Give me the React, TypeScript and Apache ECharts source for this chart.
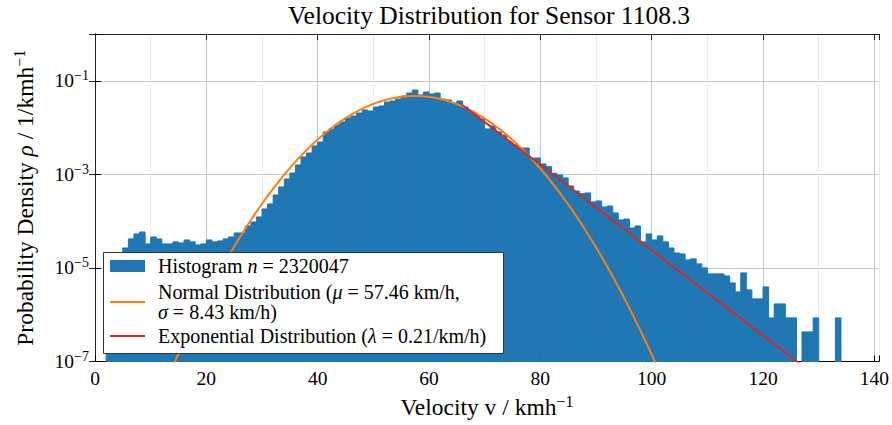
import React, { useEffect, useRef } from 'react';
import * as echarts from 'echarts';

// Histogram bins (1 km/h wide), left edges and probability densities
const binLeft = [
  2, 3, 4, 5, 6, 7, 8, 9, 10, 11, 12, 13, 14, 15, 16, 17, 18, 19, 20, 21, 22, 23, 24, 25, 26, 27, 28, 29,
  30, 31, 32, 33, 34, 35, 36, 37, 38, 39, 40, 41, 42, 43, 44, 45, 46, 47, 48, 49, 50, 51, 52, 53, 54, 55,
  56, 57, 58, 59, 60, 61, 62, 63, 64, 65, 66, 67, 68, 69, 70, 71, 72, 73, 74, 75, 76, 77, 78, 79, 80, 81,
  82, 83, 84, 85, 86, 87, 88, 89, 90, 91, 92, 93, 94, 95, 96, 97, 98, 99, 100, 101, 102, 103, 104, 105,
  106, 107, 108, 109, 110, 111, 112, 113, 114, 115, 116, 117, 118, 119, 120, 121, 122, 123, 124, 125,
  127, 128, 129, 133,
];
const binDensity = [
  4.0e-6, 8.0e-6, 1.4e-5, 2.67e-5, 4.17e-5, 5.32e-5, 5.87e-5, 3.26e-5, 4.59e-5, 4.17e-5, 3.26e-5, 3.26e-5,
  3.6e-5, 3.42e-5, 3.96e-5, 3.6e-5, 3.1e-5, 3.26e-5, 3.96e-5, 3.6e-5, 3.78e-5, 4.17e-5, 4.59e-5, 5.6e-5,
  5.6e-5, 7.9e-5, 9.6e-5, 1.23e-4, 1.82e-4, 2.33e-4, 3.63e-4, 5.38e-4, 7.98e-4, 1.07e-3, 1.59e-3, 2.36e-3,
  2.86e-3, 4.05e-3, 4.92e-3, 8.05e-3, 9.33e-3, 1.14e-2, 1.32e-2, 1.6e-2, 1.77e-2, 2.05e-2, 2.38e-2, 2.26e-2,
  2.75e-2, 2.9e-2, 3.52e-2, 3.7e-2, 4.08e-2, 4.73e-2, 5.48e-2, 6.35e-2, 4.98e-2, 5.77e-2, 5.22e-2, 5.48e-2,
  4.08e-2, 3.89e-2, 3.36e-2, 3.7e-2, 2.75e-2, 2.15e-2, 1.86e-2, 1.53e-2, 9.33e-3, 1.08e-2, 8.05e-3, 6.95e-3,
  4.92e-3, 4.25e-3, 3.66e-3, 3.66e-3, 2.24e-3, 2.24e-3, 1.67e-3, 1.46e-3, 1.05e-3, 9.7e-4, 8.4e-4, 5.65e-4,
  4.42e-4, 3.87e-4, 4.01e-4, 2.57e-4, 2.7e-4, 2.01e-4, 2.11e-4, 1.5e-4, 1.06e-4, 1.11e-4, 7.16e-5, 7.89e-5,
  3.6e-5, 5.32e-5, 3.96e-5, 4.83e-5, 3.6e-5, 2.67e-5, 2.09e-5, 1.99e-5, 1.48e-5, 1.56e-5, 1.22e-5, 1.0e-5,
  7.45e-6, 7.45e-6, 7.45e-6, 6.75e-6, 4.78e-6, 3.07e-6, 7.82e-6, 3.39e-6, 2.18e-6, 2.18e-6, 3.93e-6, 8.55e-7,
  1.7e-6, 1.7e-6, 8.55e-7, 8.55e-7, 4.29e-7, 4.29e-7, 8.55e-7, 8.55e-7,
];
const BIN_WIDTH = 1;

// Fitted distributions (parameters as given in the legend)
const NORMAL_MU = 57.46;
const NORMAL_SIGMA = 8.43;
const EXP_LAMBDA = 0.21;
const EXP_ANCHOR_V = 80;
const EXP_ANCHOR_DENSITY = 1.6e-3;
const EXP_RANGE = [66, 126.5];
const NORMAL_RANGE = [10, 106];

const HIST_N = '2320047';
const xTicks = [0, 20, 40, 60, 80, 100, 120, 140];
const X_MIN = 0;
const X_MAX = 140.8;
const Y_MIN = 1e-7;
const Y_MAX = 1;

const FONT = "'Liberation Serif', 'DejaVu Serif', serif";

const normalPdf = (v: number) =>
  Math.exp(-0.5 * ((v - NORMAL_MU) / NORMAL_SIGMA) ** 2) / (NORMAL_SIGMA * Math.sqrt(2 * Math.PI));
const expPdf = (v: number) => EXP_ANCHOR_DENSITY * Math.exp(-EXP_LAMBDA * (v - EXP_ANCHOR_V));

function curvePoints(range: number[], step: number, f: (v: number) => number) {
  const pts: number[][] = [];
  for (let v = range[0]; v <= range[1] + 1e-9; v += step) pts.push([v, f(v)]);
  return pts;
}

const tickRich = {
  sup: { fontSize: 14, fontFamily: FONT, color: '#000', padding: [0, 0, 10, 0] },
};
const nameRich = {
  sup: { fontSize: 16, fontFamily: FONT, color: '#000', padding: [0, 0, 11, 0] },
  i: { fontStyle: 'italic', fontSize: 23.5, fontFamily: FONT, color: '#000' },
};

export default function App() {
  const ref = useRef<HTMLDivElement>(null);
  useEffect(() => {
    if (!ref.current) return;
    const chart = echarts.init(ref.current, undefined, { renderer: 'svg' });
    const histData = binLeft.map((l, i) => [l, l + BIN_WIDTH, binDensity[i]]);
    const grid = { left: 95, right: 13, top: 34, bottom: 63.5 };

    const legendFont = 20;
    const legendRich = { i: { fontStyle: 'italic', fontSize: legendFont, fontFamily: FONT } };
    const legendText = (text: string, x: number, y: number) => ({
      type: 'text',
      z: 101,
      x,
      y,
      style: {
        text,
        fontSize: legendFont,
        fontFamily: FONT,
        fill: '#000',
        verticalAlign: 'middle',
        textVerticalAlign: 'middle',
        rich: legendRich,
      },
    });

    const option: any = {
      animation: false,
      backgroundColor: '#fff',
      grid,
      xAxis: [
        {
          type: 'value',
          min: X_MIN,
          max: X_MAX,
          interval: 20,
          position: 'bottom',
          axisLine: { show: true, lineStyle: { color: '#000', width: 1 } },
          axisTick: { show: true, inside: true, length: 6, lineStyle: { color: '#000' } },
          axisLabel: {
            margin: 7,
            fontSize: 19.5,
            fontFamily: FONT,
            color: '#000',
            formatter: (v: number) => (xTicks.includes(v) ? String(v) : ''),
          },
          splitLine: { show: false },
          name: 'Velocity v / kmh{sup|−1}',
          nameLocation: 'middle',
          nameGap: 30,
          nameTextStyle: { fontSize: 23.5, fontFamily: FONT, color: '#000', verticalAlign: 'top', rich: nameRich },
        },
        {
          type: 'value',
          min: X_MIN,
          max: X_MAX,
          interval: 20,
          position: 'top',
          axisLine: { show: true, lineStyle: { color: '#222', width: 1 } },
          axisTick: { show: true, inside: true, length: 6, lineStyle: { color: '#222' } },
          axisLabel: { show: false },
          splitLine: { show: false },
        },
        {
          type: 'value',
          min: X_MIN,
          max: X_MAX,
          interval: 10,
          position: 'bottom',
          axisLine: { show: false },
          axisTick: { show: false },
          axisLabel: { show: false },
          splitLine: { show: true, lineStyle: { color: ['#c6c6c6', '#ebebeb'], width: 1 } },
        },
      ],
      yAxis: [
        {
          type: 'log',
          logBase: 10,
          min: Y_MIN,
          max: Y_MAX,
          interval: 2,
          position: 'left',
          axisLine: { show: true, lineStyle: { color: '#000', width: 1 } },
          axisTick: { show: true, inside: true, length: 6, lineStyle: { color: '#000' } },
          axisLabel: {
            margin: 6,
            fontSize: 19.5,
            fontFamily: FONT,
            color: '#000',
            rich: tickRich,
            formatter: (v: number) => {
              const e = Math.round(Math.log10(v));
              if (e % 2 === 0) return '';
              return '10{sup|−' + -e + '}';
            },
          },
          splitLine: { show: true, lineStyle: { color: '#c6c6c6', width: 1 } },
          name: 'Probability Density {i|ρ} / 1/kmh{sup|−1}',
          nameLocation: 'middle',
          nameRotate: 90,
          nameGap: 57,
          nameTextStyle: { fontSize: 23.5, fontFamily: FONT, color: '#000', rich: nameRich },
        },
        {
          type: 'log',
          logBase: 10,
          min: Y_MIN,
          max: Y_MAX,
          interval: 2,
          position: 'right',
          axisLine: { show: true, lineStyle: { color: '#222', width: 1 } },
          axisTick: { show: true, inside: true, length: 6, lineStyle: { color: '#222' } },
          axisLabel: { show: false },
          splitLine: { show: false },
        },
      ],
      series: [
        {
          type: 'custom',
          name: 'Histogram',
          xAxisIndex: 0,
          yAxisIndex: 0,
          encode: { x: [0, 1], y: 2 },
          data: histData,
          z: 2,
          renderItem: (params: any, api: any) => {
            const p0 = api.coord([api.value(0), api.value(2)]);
            const p1 = api.coord([api.value(1), Y_MIN]);
            return {
              type: 'rect',
              shape: { x: p0[0], y: p0[1], width: p1[0] - p0[0], height: p1[1] - p0[1] },
              style: { fill: '#1f77b4', stroke: '#1f77b4', lineWidth: 1 },
            };
          },
        },
        {
          type: 'line',
          name: 'Normal',
          xAxisIndex: 0,
          yAxisIndex: 0,
          data: curvePoints(NORMAL_RANGE, 0.25, normalPdf),
          showSymbol: false,
          symbol: 'none',
          clip: true,
          z: 3,
          lineStyle: { color: '#ff7f0e', width: 2 },
        },
        {
          type: 'line',
          name: 'Exponential',
          xAxisIndex: 0,
          yAxisIndex: 0,
          data: curvePoints(EXP_RANGE, 0.5, expPdf),
          showSymbol: false,
          symbol: 'none',
          clip: true,
          z: 4,
          lineStyle: { color: '#d62728', width: 2 },
        },
      ],
      graphic: [
        {
          type: 'text',
          z: 100,
          x: 489,
          y: 15,
          style: {
            text: 'Velocity Distribution for Sensor 1108.3',
            fontSize: 25.5,
            fontFamily: FONT,
            fill: '#000',
            align: 'center',
            verticalAlign: 'middle',
            textAlign: 'center',
            textVerticalAlign: 'middle',
          },
        },
        {
          type: 'group',
          z: 100,
          children: [
            {
              type: 'rect',
              z: 100,
              shape: { x: 103.5, y: 252.5, width: 400, height: 101 },
              style: { fill: '#fff', stroke: '#333', lineWidth: 1 },
            },
            {
              type: 'rect',
              z: 101,
              shape: { x: 110, y: 260, width: 35, height: 12 },
              style: { fill: '#1f77b4' },
            },
            {
              type: 'line',
              z: 101,
              shape: { x1: 110, y1: 302, x2: 145, y2: 302 },
              style: { stroke: '#ff7f0e', lineWidth: 2 },
            },
            {
              type: 'line',
              z: 101,
              shape: { x1: 110, y1: 336, x2: 145, y2: 336 },
              style: { stroke: '#d62728', lineWidth: 2 },
            },
            legendText('Histogram {i|n} = ' + HIST_N, 158, 266),
            legendText('Normal Distribution ({i|μ} = ' + NORMAL_MU + ' km/h,', 158, 292),
            legendText('{i|σ} = ' + NORMAL_SIGMA + ' km/h)', 158, 312),
            legendText('Exponential Distribution ({i|λ} = ' + EXP_LAMBDA + '/km/h)', 158, 336),
          ],
        },
      ],
    };
    chart.setOption(option);
    return () => chart.dispose();
  }, []);
  return <div ref={ref} style={{ position: 'absolute', left: 0, top: 0, width: 892, height: 425 }} />;
}
